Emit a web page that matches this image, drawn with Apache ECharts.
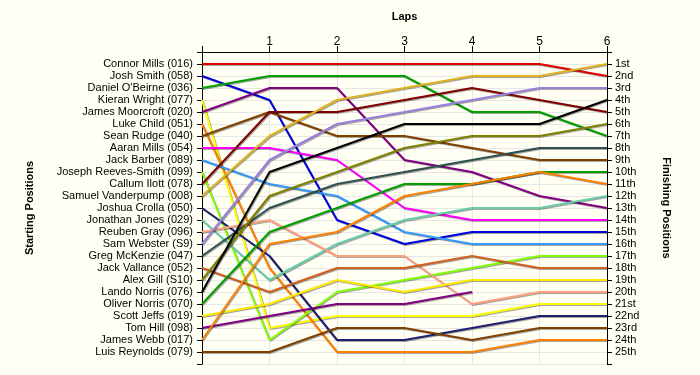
<!DOCTYPE html>
<html>
<head>
<meta charset="utf-8">
<script src="https://cdn.jsdelivr.net/npm/echarts@6/dist/echarts.min.js"></script>
<style>
  html, body { margin: 0; padding: 0; background: #FFFFF4; }
  #main { width: 700px; height: 375px; }
</style>
</head>
<body>
<div id="main"></div>
<script>
// laps on the top axis
const laps = [0, 1, 2, 3, 4, 5, 6];

// drivers in starting order
const drivers = [
  'Connor Mills (016)', 'Josh Smith (058)', "Daniel O'Beirne (036)", 'Kieran Wright (077)',
  'James Moorcroft (020)', 'Luke Child (051)', 'Sean Rudge (040)', 'Aaran Mills (054)',
  'Jack Barber (089)', 'Joseph Reeves-Smith (099)', 'Callum Ilott (078)', 'Samuel Vanderpump (008)',
  'Joshua Crolla (050)', 'Jonathan Jones (029)', 'Reuben Gray (096)', 'Sam Webster (S9)',
  'Greg McKenzie (047)', 'Jack Vallance (052)', 'Alex Gill (S10)', 'Lando Norris (076)',
  'Oliver Norris (070)', 'Scott Jeffs (019)', 'Tom Hill (098)', 'James Webb (017)',
  'Luis Reynolds (079)'
];

// finishing position labels (right axis)
const finishLabels = [
  '1st', '2nd', '3rd', '4th', '5th', '6th', '7th', '8th', '9th', '10th', '11th', '12th', '13th',
  '14th', '15th', '16th', '17th', '18th', '19th', '20th', '21st', '22nd', '23rd', '24th', '25th'
];

// position of each driver at lap 0..6 (null = retired)
const lapPositions = [
  [1, 1, 1, 1, 1, 1, 2],
  [2, 4, 14, 16, 15, 15, 15],
  [3, 2, 2, 2, 5, 5, 7],
  [4, 23, 22, 22, 22, 21, 21],
  [5, 3, 3, 9, 10, 12, 13],
  [6, 18, 25, 25, 25, 24, 24],
  [7, 5, 7, 7, 8, 9, 9],
  [8, 8, 9, 13, 14, 14, 14],
  [9, 11, 12, 15, 16, 16, 16],
  [10, 24, 20, 19, 18, 17, 17],
  [11, 5, 5, 4, 3, 4, 5],
  [12, 7, 4, 3, 2, 2, 1],
  [13, 17, 24, 24, 23, 22, 22],
  [14, 19, 16, 14, 13, 13, 12],
  [15, 14, 17, 17, 21, 20, 20],
  [16, 9, 6, 5, 4, 3, 3],
  [17, 13, 11, 10, 9, 8, 8],
  [18, 20, 18, 18, 17, 18, 18],
  [19, 12, 10, 8, 7, 7, 6],
  [20, 10, 8, 6, 6, 6, 4],
  [21, 15, 13, 11, 11, 10, 10],
  [22, 21, 19, 20, 19, 19, 19],
  [23, 22, 21, 21, 20, null, null],
  [24, 16, 15, 12, 11, 10, 11],
  [25, 25, 23, 23, 24, 23, 23]
];

// line colours, same order as drivers
const lineColors = [
  '#E00000', '#0000E0', '#00A000', '#FFFF00', '#800080', '#FF8000', '#804000', '#FF00FF',
  '#3399FF', '#80FF00', '#800000', '#E0B020', '#202070', '#66CCAA', '#FF9F80', '#9980E0',
  '#305050', '#D06020', '#808000', '#000000', '#00A000', '#FFE800', '#800080', '#FF8000',
  '#804000'
];

const fontFamily = '"Liberation Sans", Arial, sans-serif';

const series = drivers.map((name, i) => {
  const pts = [];
  lapPositions[i].forEach((p, j) => {
    if (p !== null) pts.push([laps[j], p]);
  });
  return {
    name: name,
    type: 'line',
    symbol: 'none',
    yAxisIndex: 0,
    lineStyle: {
      color: lineColors[i],
      width: 2,
      shadowColor: 'rgba(0,0,0,0.35)',
      shadowOffsetX: 1,
      shadowOffsetY: 1,
      shadowBlur: 0
    },
    data: pts
  };
});

const posAxis = (labels, side) => ({
  type: 'value',
  position: side,
  inverse: true,
  min: 0,
  max: 26,
  interval: 1,
  axisLine: { show: true, lineStyle: { color: '#000', width: 1 } },
  axisTick: { show: true, length: 5, lineStyle: { color: '#000' } },
  axisLabel: {
    margin: side === 'left' ? 9 : 8,
    color: '#000',
    fontSize: 11,
    fontFamily: fontFamily,
    formatter: (v) => (v >= 1 && v <= 25 ? labels[v - 1] : '')
  },
  splitLine: { show: side === 'left', lineStyle: { color: '#E6E6E6', width: 1 } }
});

const option = {
  backgroundColor: '#FFFFF4',
  animation: false,
  grid: { left: 202, right: 93, top: 52, bottom: 11 },
  xAxis: {
    type: 'value',
    position: 'top',
    min: 0,
    max: 6,
    interval: 1,
    name: 'Laps',
    nameLocation: 'middle',
    nameGap: 30,
    nameTextStyle: { fontWeight: 'bold', fontSize: 11, fontFamily: fontFamily, color: '#000' },
    axisLine: { show: true, lineStyle: { color: '#000', width: 1 } },
    axisTick: { show: true, length: 6, lineStyle: { color: '#000' } },
    axisLabel: {
      margin: 4,
      color: '#000',
      fontSize: 12,
      fontFamily: fontFamily,
      formatter: (v) => (v === 0 ? '' : String(v))
    },
    splitLine: { show: true, lineStyle: { color: '#E6E6E6', width: 1 } }
  },
  yAxis: [
    Object.assign(posAxis(drivers, 'left'), {
      name: 'Starting Positions',
      nameLocation: 'middle',
      nameRotate: 90,
      nameGap: 167,
      nameTextStyle: { fontWeight: 'bold', fontSize: 11, fontFamily: fontFamily, color: '#000' }
    }),
    Object.assign(posAxis(finishLabels, 'right'), {
      name: 'Finishing Positions',
      nameLocation: 'middle',
      nameRotate: -90,
      nameGap: 54,
      nameTextStyle: { fontWeight: 'bold', fontSize: 11, fontFamily: fontFamily, color: '#000' }
    })
  ],
  series: series
};

const myChart = echarts.init(document.getElementById('main'));
myChart.setOption(option, true);
</script>
</body>
</html>
